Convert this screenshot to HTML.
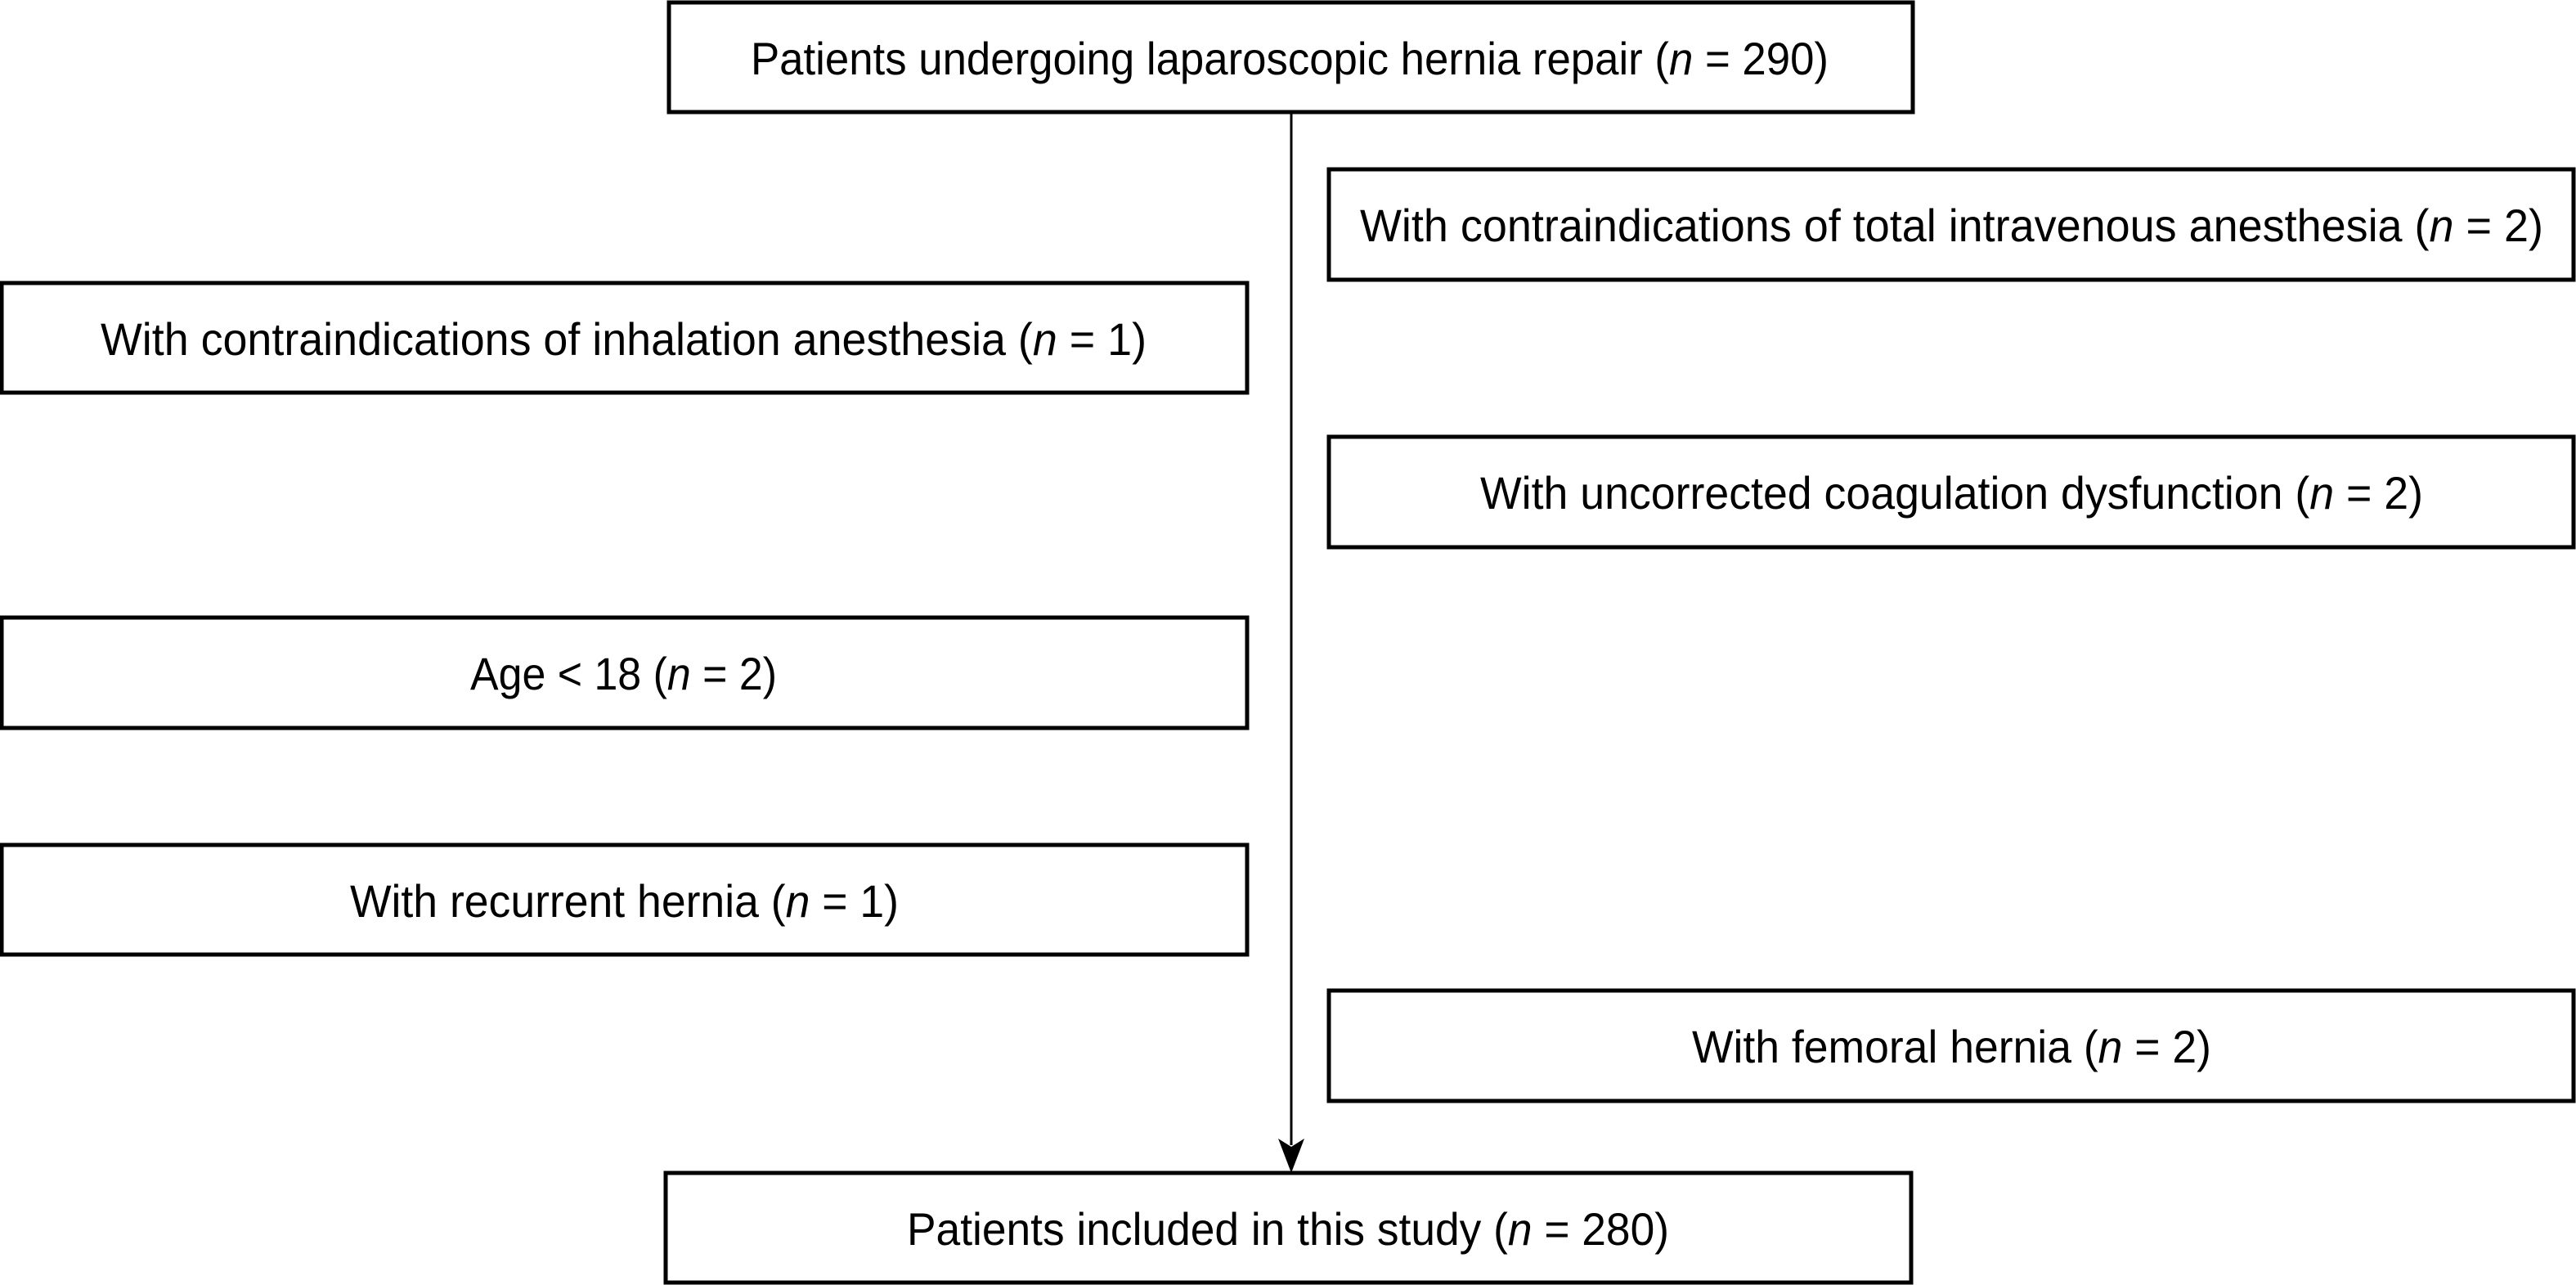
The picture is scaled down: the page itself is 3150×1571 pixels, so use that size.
<!DOCTYPE html>
<html><head><meta charset="utf-8"><style>
html,body{margin:0;padding:0;background:#fff;}
svg{display:block;}
text{font-family:"Liberation Sans",sans-serif;font-size:56px;fill:#000;}
</style></head><body>
<svg width="3150" height="1571" viewBox="0 0 3150 1571" xmlns="http://www.w3.org/2000/svg">
<g fill="none" stroke="#000" stroke-width="5">
<rect x="818" y="3" width="1521" height="134"/>
<rect x="1625" y="207" width="1522" height="135"/>
<rect x="2" y="346" width="1523" height="134"/>
<rect x="1625" y="534" width="1522" height="135"/>
<rect x="2" y="755" width="1523" height="135"/>
<rect x="2" y="1033" width="1523" height="134"/>
<rect x="1625" y="1211" width="1522" height="135"/>
<rect x="814" y="1434" width="1523" height="134"/>
<line x1="1579" y1="137" x2="1579" y2="1400" stroke-width="3"/>
</g>
<path d="M1579 1434 L1563 1392 L1579 1402 L1595 1392 Z" fill="#000"/>
<text x="918" y="91" textLength="1318" lengthAdjust="spacingAndGlyphs">Patients undergoing laparoscopic hernia repair (<tspan font-style="italic">n</tspan> = 290)</text>
<text x="1663" y="295" textLength="1447" lengthAdjust="spacingAndGlyphs">With contraindications of total intravenous anesthesia (<tspan font-style="italic">n</tspan> = 2)</text>
<text x="123" y="434" textLength="1279" lengthAdjust="spacingAndGlyphs">With contraindications of inhalation anesthesia (<tspan font-style="italic">n</tspan> = 1)</text>
<text x="1810" y="622" textLength="1153" lengthAdjust="spacingAndGlyphs">With uncorrected coagulation dysfunction (<tspan font-style="italic">n</tspan> = 2)</text>
<text x="575" y="843" textLength="375" lengthAdjust="spacingAndGlyphs">Age &lt; 18 (<tspan font-style="italic">n</tspan> = 2)</text>
<text x="428" y="1121" textLength="671" lengthAdjust="spacingAndGlyphs">With recurrent hernia (<tspan font-style="italic">n</tspan> = 1)</text>
<text x="2069" y="1299" textLength="635" lengthAdjust="spacingAndGlyphs">With femoral hernia (<tspan font-style="italic">n</tspan> = 2)</text>
<text x="1109" y="1522" textLength="932" lengthAdjust="spacingAndGlyphs">Patients included in this study (<tspan font-style="italic">n</tspan> = 280)</text>
</svg>
</body></html>
